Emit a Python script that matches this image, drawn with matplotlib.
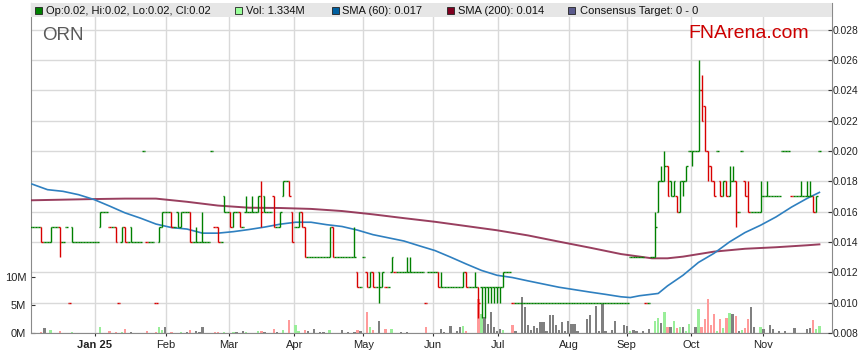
import numpy as np
import matplotlib
matplotlib.use("Agg")
import matplotlib.pyplot as plt
from matplotlib.patches import Rectangle
from matplotlib.transforms import blended_transform_factory

plt.rcParams['font.family'] = ['Liberation Sans', 'DejaVu Sans']

# ---------------- data ----------------
# prices in thousandths of a dollar (0.015 -> 15), one entry per trading bar
open_ = [
    15, 15, 15, 15, 14, 14, 14, 15, 15, 15,
    14, 15, 10, 15, 14, 14, 14, 14, 14, 14,
    14, 14, 15, 16, 16, 15, 15, 15, 10, 14,
    15, 14, 15, 14, 14, 14, 20, 14, 14, 14,
    10, 14, 15, 16, 16, 16, 15, 16, 15, 16,
    16, 16, 14, 14, 14, 14, 14, 14, 20, 15,
    15, 14, 17, 16, 16, 15, 16, 16, 15, 16,
    16, 16, 16, 16, 17, 17, 16, 16, 17, 15,
    15, 17, 18, 18, 16, 15, 15, 16, 15, 13,
    13, 13, 13, 13, 13, 13, 13, 15, 13, 13,
    13, 13, 13, 13, 13, 12, 11, 13, 12, 11,
    12, 11, 12, 11, 11, 11, 12, 12, 12, 12,
    12, 12, 12, 12, 12, 12, 12, 10, 12, 12,
    12, 12, 11, 11, 11, 11, 11, 11, 11, 11,
    12, 11, 11, 11, 11, 11, 11, 11, 11, 11,
    11, 11, 11, 12, 12, 10, 10, 10, 10, 10,
    10, 10, 10, 10, 10, 10, 10, 10, 10, 10,
    10, 10, 10, 10, 10, 10, 10, 10, 10, 10,
    10, 10, 10, 10, 10, 10, 10, 10, 10, 10,
    10, 10, 10, 13, 13, 13, 13, 13, 10, 10,
    13, 13, 16, 18, 18, 19, 18, 17, 17, 16,
    18, 18, 20, 20, 20, 20, 24, 23, 20, 19,
    18, 20, 18, 17, 18, 17, 18, 18, 16, 20,
    18, 17, 16, 16, 16, 16, 17, 17, 17, 17,
    17, 17, 20, 20, 20, 17, 17, 17, 17, 17,
    17, 17, 17, 16, 20,
]
high = [
    15, 15, 15, 15, 14, 14, 15, 15, 15, 15,
    14, 15, 10, 15, 14, 14, 14, 14, 14, 14,
    14, 14, 16, 16, 16, 15, 15, 15, 10, 15,
    15, 14, 15, 14, 14, 14, 20, 14, 14, 14,
    10, 15, 16, 16, 16, 16, 15, 16, 16, 16,
    16, 16, 14, 15, 14, 16, 14, 14, 20, 15,
    15, 14, 17, 16, 16, 16, 16, 16, 15, 17,
    16, 17, 16, 17, 18, 17, 16, 16, 17, 15,
    16, 18, 18, 18, 16, 15, 16, 16, 15, 13,
    13, 13, 13, 13, 13, 13, 15, 15, 13, 13,
    13, 13, 13, 13, 15, 12, 11, 13, 12, 12,
    12, 11, 12, 12, 11, 11, 13, 12, 12, 12,
    12, 13, 13, 12, 12, 12, 12, 10, 12, 12,
    12, 12, 12, 11, 11, 11, 11, 11, 11, 12,
    12, 11, 11, 12, 11, 11, 11, 11, 11, 11,
    11, 11, 12, 12, 12, 10, 10, 10, 10, 10,
    10, 10, 10, 10, 10, 10, 10, 10, 10, 10,
    10, 10, 10, 10, 10, 10, 10, 10, 10, 10,
    10, 10, 10, 10, 10, 10, 10, 10, 10, 10,
    10, 10, 10, 13, 13, 13, 13, 13, 10, 10,
    13, 16, 18, 19, 20, 19, 18, 18, 17, 18,
    18, 19, 20, 20, 20, 26, 25, 23, 20, 19,
    18, 20, 18, 18, 18, 19, 19, 18, 16, 20,
    18, 18, 16, 16, 16, 18, 17, 18, 17, 17,
    17, 17, 20, 20, 20, 17, 17, 17, 18, 17,
    18, 18, 17, 17, 20,
]
low = [
    15, 15, 15, 14, 14, 14, 14, 15, 15, 13,
    14, 15, 10, 14, 14, 14, 14, 14, 14, 14,
    14, 14, 15, 16, 16, 15, 15, 14, 10, 14,
    14, 14, 14, 14, 14, 14, 20, 14, 14, 14,
    10, 14, 15, 16, 16, 15, 15, 15, 15, 16,
    16, 14, 14, 14, 14, 14, 14, 14, 20, 15,
    14, 14, 16, 16, 15, 15, 16, 15, 15, 16,
    16, 16, 16, 16, 15, 16, 16, 16, 15, 15,
    15, 17, 18, 17, 14, 15, 15, 15, 13, 13,
    13, 13, 13, 13, 13, 13, 13, 13, 13, 13,
    13, 13, 13, 13, 13, 11, 11, 13, 11, 11,
    11, 11, 10, 11, 11, 11, 12, 12, 12, 12,
    12, 12, 12, 12, 12, 12, 12, 10, 12, 12,
    12, 11, 11, 11, 11, 11, 11, 11, 11, 11,
    11, 11, 11, 11, 9, 9, 9, 10, 10, 10,
    10, 10, 11, 12, 12, 10, 10, 10, 10, 10,
    10, 10, 10, 10, 10, 10, 10, 10, 10, 10,
    10, 10, 10, 10, 10, 10, 10, 10, 10, 10,
    10, 10, 10, 10, 10, 10, 10, 10, 10, 10,
    10, 10, 10, 13, 13, 13, 13, 13, 10, 10,
    13, 13, 16, 18, 18, 17, 17, 17, 16, 16,
    17, 18, 20, 19, 20, 20, 22, 20, 18, 18,
    17, 20, 17, 17, 17, 17, 18, 15, 16, 20,
    17, 16, 16, 16, 16, 16, 17, 17, 17, 17,
    17, 17, 20, 20, 20, 17, 17, 17, 17, 17,
    17, 17, 16, 16, 20,
]
close = [
    15, 15, 15, 14, 14, 14, 15, 15, 15, 14,
    14, 15, 10, 14, 14, 14, 14, 14, 14, 14,
    14, 14, 16, 16, 16, 15, 15, 14, 10, 15,
    14, 14, 14, 14, 14, 14, 20, 14, 14, 14,
    10, 15, 16, 16, 16, 15, 15, 15, 16, 16,
    16, 14, 14, 14, 14, 14, 14, 14, 20, 15,
    14, 14, 16, 16, 15, 16, 16, 15, 15, 16,
    16, 16, 16, 17, 16, 16, 16, 16, 15, 15,
    16, 18, 18, 17, 14, 15, 16, 15, 13, 13,
    13, 13, 13, 13, 13, 13, 15, 13, 13, 13,
    13, 13, 13, 13, 13, 11, 11, 13, 11, 12,
    11, 11, 11, 12, 11, 11, 13, 12, 12, 12,
    12, 12, 12, 12, 12, 12, 12, 10, 12, 12,
    12, 11, 11, 11, 11, 11, 11, 11, 11, 12,
    11, 11, 11, 11, 10, 11, 11, 11, 11, 11,
    11, 11, 12, 12, 12, 10, 10, 10, 10, 10,
    10, 10, 10, 10, 10, 10, 10, 10, 10, 10,
    10, 10, 10, 10, 10, 10, 10, 10, 10, 10,
    10, 10, 10, 10, 10, 10, 10, 10, 10, 10,
    10, 10, 10, 13, 13, 13, 13, 13, 10, 10,
    13, 15, 18, 18, 19, 17, 17, 18, 16, 18,
    18, 19, 20, 20, 20, 24, 22, 20, 19, 18,
    17, 20, 17, 18, 17, 18, 18, 16, 16, 20,
    17, 16, 16, 16, 16, 17, 17, 17, 17, 17,
    17, 17, 20, 20, 20, 17, 17, 17, 17, 17,
    17, 17, 16, 17, 20,
]
# daily volume, millions of shares
volume_m = [
    0, 0, 0, 0.18, 0.95, 0, 0.54, 0, 0, 0.36,
    0, 0, 0.05, 0.18, 0, 0, 0, 0, 0, 0,
    0, 0, 1.07, 0, 0, 0.3, 0, 0.24, 0.05, 0.18,
    0.78, 0, 0.24, 0, 0, 0, 0.05, 0.36, 0, 0,
    0.24, 1.07, 0.6, 1.07, 0, 0.18, 0, 0, 0.18, 0,
    0.18, 0.54, 0, 0.36, 0.18, 1.07, 0, 0, 0.05, 0.18,
    0.18, 0, 0.18, 0, 0, 0.18, 0.18, 0, 0.3, 0.18,
    0, 0, 0, 0.36, 0.36, 0.18, 0, 0, 0.72, 0.18,
    0, 0.48, 0, 2.4, 0, 1.43, 0.3, 0, 0.6, 0.3,
    0, 0.7, 0, 0.18, 0.18, 0, 0.5, 0, 0, 0,
    0.5, 0, 0.18, 0, 0.1, 0.5, 0.3, 0, 3.8, 1.1,
    0.5, 0, 2.2, 0, 0.7, 0, 0.7, 0, 0, 0.24,
    0, 0.24, 0, 0, 0, 0, 0, 1.1, 0, 0,
    0, 0, 0.7, 0.24, 0, 1.2, 0, 0.36, 1.1, 1.3,
    0.36, 0, 0, 0, 6.2, 3.4, 2.8, 1.6, 3.7, 1.1,
    0.4, 0.8, 0.5, 0, 0, 1.5, 0.4, 0, 6.4, 4.6,
    1.4, 0.5, 1.2, 0.9, 1.9, 1.9, 0.4, 3.3, 3.3, 1.4,
    0.5, 1.9, 0.4, 2.2, 1.7, 1.7, 0.3, 0, 0, 2.6,
    3.2, 0, 4.8, 0.3, 5.3, 0.3, 0, 0.6, 2.2, 0,
    0, 1.5, 1.2, 0.3, 0.6, 0.4, 0, 0.3, 0, 0.7,
    0, 2.2, 2.7, 1.8, 3.7, 1.1, 1.1, 2.2, 0.9, 1.0,
    1.1, 0.3, 1.6, 0, 1.1, 4.3, 1.1, 2.6, 6.2, 1.4,
    3.5, 0.4, 2.6, 0.9, 2.7, 3.6, 3.4, 3.1, 0.4, 0.5,
    0.9, 2.6, 4.6, 1.1, 0, 1.1, 0.7, 0, 1.5, 0.7,
    0, 0.4, 0, 0.4, 0, 0, 0.9, 0, 0, 0,
    0.7, 0.9, 2.4, 0.7, 1.334,
]
# moving averages (bar index -> value)
sma60_bar = [0, 5, 10, 15, 20, 25, 30, 35, 40, 45, 50, 55, 60, 65, 70, 75, 80,
             85, 90, 95, 100, 105, 110, 115, 120, 125, 130, 135, 140, 145, 150,
             155, 160, 165, 170, 175, 180, 185, 190, 193, 196, 200, 202, 205,
             210, 215, 220, 225, 230, 235, 240, 245, 250, 254]
sma60_val = [0.01782, 0.01745, 0.01734, 0.01712, 0.01680, 0.01637, 0.01592,
             0.01557, 0.01518, 0.01495, 0.01485, 0.01458, 0.01458, 0.01468,
             0.01482, 0.01498, 0.01517, 0.01530, 0.01530, 0.01514, 0.01502,
             0.01478, 0.01448, 0.01427, 0.01406, 0.01374, 0.01343, 0.01300,
             0.01255, 0.01212, 0.01180, 0.01165, 0.01143, 0.01122, 0.01101,
             0.01085, 0.01069, 0.01054, 0.01038, 0.01033, 0.01045, 0.01055,
             0.01060, 0.01110, 0.01180, 0.01265, 0.01325, 0.01400, 0.01462,
             0.01510, 0.01565, 0.01630, 0.01687, 0.01727]
sma200_bar = [0, 10, 20, 30, 40, 50, 60, 70, 80, 90, 100, 110, 120, 130, 140,
              150, 160, 170, 180, 190, 200, 205, 210, 220, 230, 240, 250, 254]
sma200_val = [0.01675, 0.01679, 0.01683, 0.01686, 0.01686, 0.01665, 0.01640,
              0.01626, 0.01624, 0.01618, 0.01604, 0.01582, 0.01557, 0.01533,
              0.01505, 0.01477, 0.01443, 0.01402, 0.01362, 0.01320, 0.01292,
              0.01292, 0.01303, 0.01336, 0.01355, 0.01365, 0.01378, 0.01384]
month_pos = [20.2, 43.3, 63.6, 84.6, 106.9, 129.3, 150.2, 173.3, 191.8, 212.7, 235.9]
month_labels = ['Jan 25', 'Feb', 'Mar', 'Apr', 'May', 'Jun', 'Jul', 'Aug', 'Sep', 'Oct', 'Nov']
price_ticks = [0.008, 0.010, 0.012, 0.014, 0.016, 0.018, 0.020, 0.022, 0.024, 0.026, 0.028]
vol_ticks = [0, 5, 10]
vol_tick_labels = ['0M', '5M', '10M']
ticker = 'ORN'

for arr in (open_, high, low, close, volume_m):
    assert len(arr) == len(close), len(arr)

# ---------------- derived ----------------
o = np.array(open_) / 1000.0
h = np.array(high) / 1000.0
l = np.array(low) / 1000.0
c = np.array(close) / 1000.0
v = np.array(volume_m, dtype=float)
x = np.arange(len(c))
prev = np.r_[c[0], c[:-1]]

GREEN, RED = '#008000', '#d80000'
price_col = np.where(c >= prev, GREEN, RED)
vol_col = np.where(c > prev, '#99ee99', np.where(c < prev, '#ff9a9a', '#808080'))
GRID = '#d9d9d9'
AXC = '#8a8a8a'

W, H = 859, 363
fig = plt.figure(figsize=(W / 100, H / 100), dpi=100)
L, R = 30.5 / W, 831.5 / W
B, T = 30 / H, 360 / H
axv = fig.add_axes([L, B, R - L, T - B])
axp = axv.twinx()

# volume axis (bottom layer)
axv.set_xlim(-0.48, 257.9)
axv.set_ylim(0, 59.4)
axv.bar(x, v, width=0.72, color=vol_col, linewidth=0, zorder=2)
axv.set_xticks(month_pos)
axv.set_xticklabels(month_labels)
axv.set_yticks(vol_ticks)
axv.set_yticklabels(vol_tick_labels)
axv.tick_params(axis='y', direction='in', length=3, pad=3, labelsize=8,
                labelcolor='#222222', color='#333333')
axv.tick_params(axis='x', direction='out', length=2, pad=3, labelsize=8,
                labelcolor='#222222', color='#333333')
for lab in axv.get_xticklabels():
    if lab.get_text() == 'Jan 25':
        lab.set_fontweight('bold')
axv.set_axisbelow(True)
axv.grid(axis='x', color=GRID, linewidth=1)
tr = blended_transform_factory(axv.transAxes, axp.transData)
for p in price_ticks:
    axv.plot([0, 1], [p, p], transform=tr, color=GRID, lw=1, zorder=0.5)

# price axis (top layer)
axp.set_ylim(0.00799, 0.02977)
axp.set_xlim(-0.48, 257.9)
axp.set_yticks(price_ticks)
axp.set_yticklabels([f'{p:.3f}' for p in price_ticks])
axp.tick_params(axis='y', direction='in', length=3, pad=1, labelsize=7.4,
                labelcolor='#222222', color='#333333')
axp.plot(sma200_bar, sma200_val, color='#8e2a4e', lw=1.4, zorder=2, alpha=0.9)
axp.plot(sma60_bar, sma60_val, color='#2f80c0', lw=1.2, zorder=2.1)
axp.vlines(x, l, h, colors=price_col, lw=1.0, zorder=3)
axp.hlines(o, x - 0.5, x, colors=price_col, lw=1.0, zorder=3)
axp.hlines(c, x, x + 0.5, colors=price_col, lw=1.0, zorder=3)

for ax in (axv, axp):
    ax.spines['top'].set_visible(False)
    for s in ax.spines.values():
        s.set_color(AXC)
axp.spines['left'].set_visible(False)
axp.spines['bottom'].set_visible(False)
axv.spines['right'].set_visible(False)

# legend band
band_h = 14 / 330
axp.add_patch(Rectangle((0, 1 - band_h), 1, band_h, transform=axp.transAxes,
                        facecolor='#e6e6e6', edgecolor='none', zorder=10, clip_on=False))

def fx(px):
    return px / W

def fy(py):
    return 1 - py / H

items = [
    (35, GREEN, 46.5, f'Op:{o[-1]:.2f}, Hi:{h[-1]:.2f}, Lo:{l[-1]:.2f}, Cl:{c[-1]:.2f}'),
    (235, '#99ff99', 246.5, f'Vol: {v[-1]:.3f}M'),
    (332, '#0060a0', 341.5, f'SMA (60): {sma60_val[-1]:.3f}'),
    (447.5, '#800020', 458, f'SMA (200): {sma200_val[-1]:.3f}'),
    (568, '#5a5a8c', 580, 'Consensus Target: 0 - 0'),
]
for sx, col, tx, txt in items:
    fig.add_artist(Rectangle((fx(sx), fy(13.5)), 6.5 / W, 6.5 / H, transform=fig.transFigure,
                             facecolor=col, edgecolor='#222222', linewidth=0.6, zorder=20))
    fig.text(fx(tx), fy(10.5), txt, fontsize=8, color='#111111', va='center', ha='left', zorder=21)

fig.text(fx(42), fy(39.5), ticker, fontsize=13.5, color='#5a5a5a', va='baseline', ha='left')
fig.text(fx(688), fy(38.5), 'FNArena.com', fontsize=14, color='#cc0000', va='baseline', ha='left')

fig.savefig('out.png', dpi=100)
